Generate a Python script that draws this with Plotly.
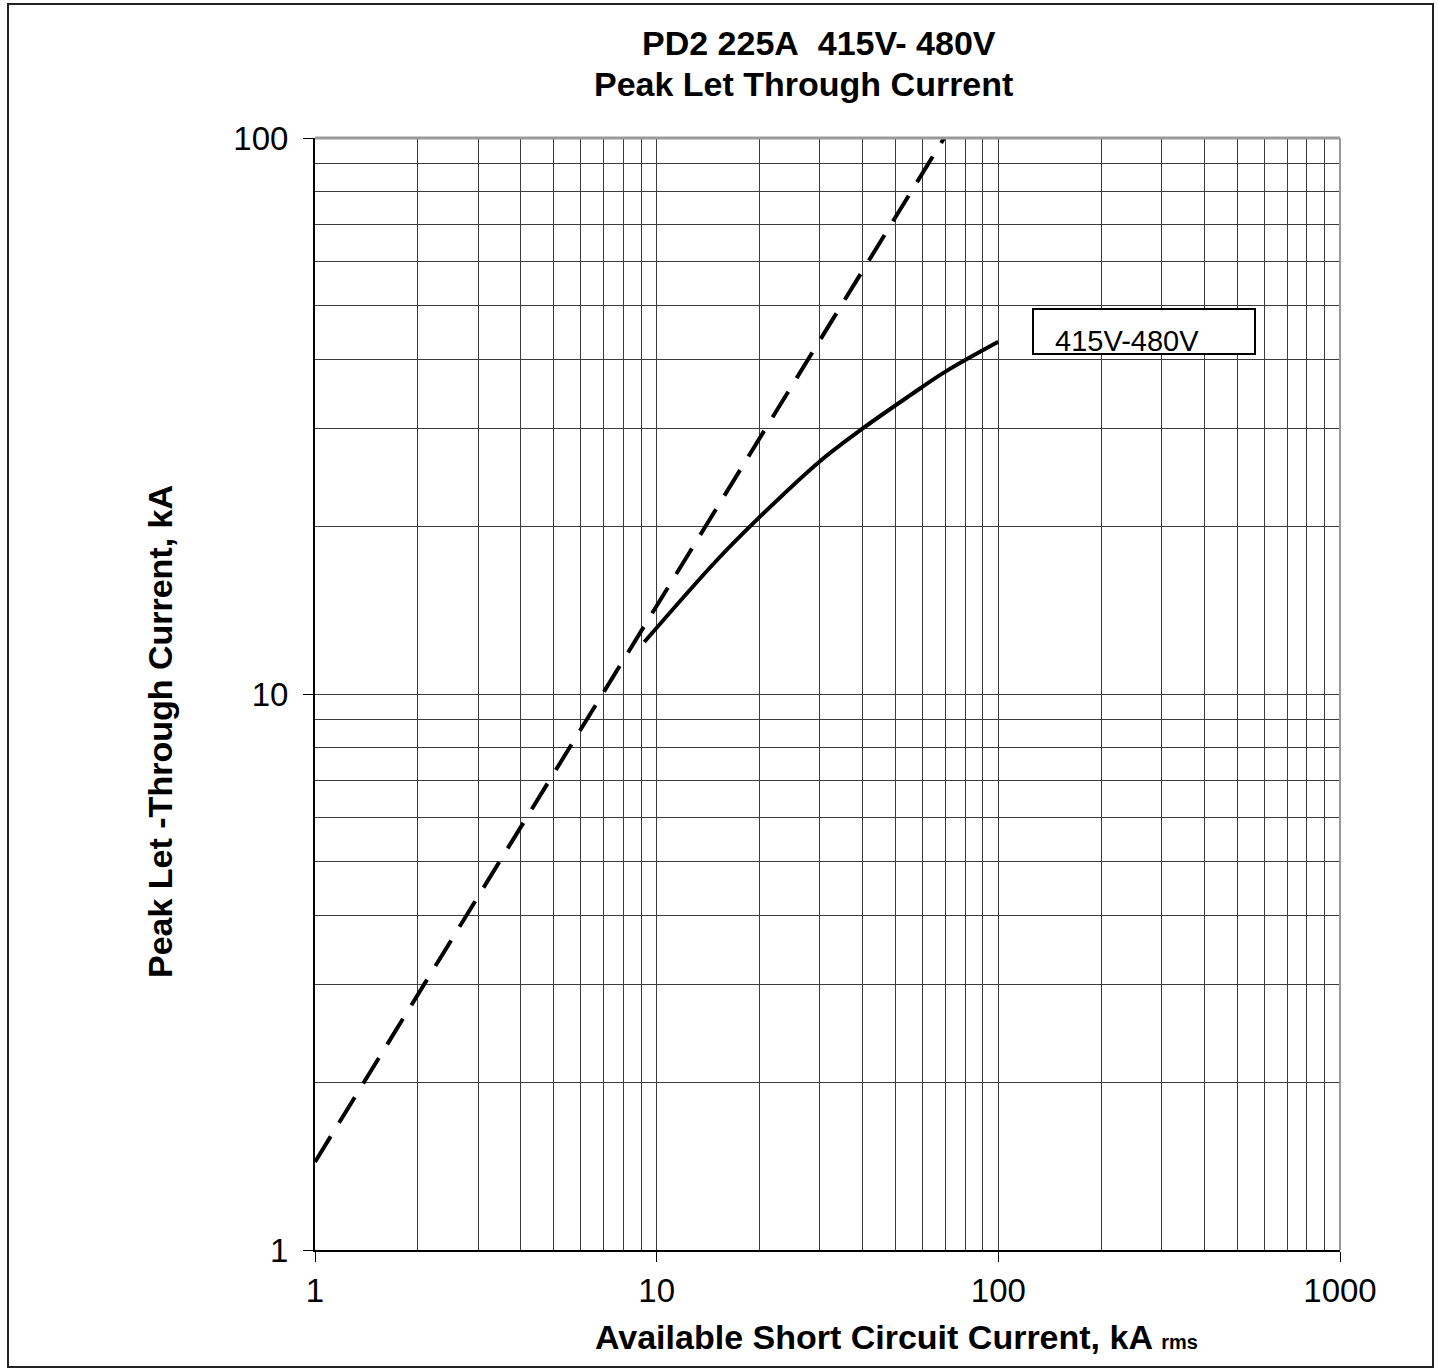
import plotly.graph_objects as go

# Data
dash_x = [1, 69.4]
dash_y = [1.44, 100]
curve_x = [9.2, 15, 20, 30, 40, 55, 70, 100]
curve_y = [12.4, 17.4, 20.8, 26.2, 30, 34.4, 38.0, 43]
series_label = "415V-480V"
major_ticks_x = [1, 10, 100, 1000]
major_ticks_y = [1, 10, 100]
minor_x = [m * d for d in (1, 10, 100) for m in range(2, 10)]
minor_y = [m * d for d in (1, 10) for m in range(2, 10)]

W, H = 1438, 1371
L, R, T, B = 315, 1340, 138, 1250
pw, ph = R - L, B - T

def px(x):
    return (x - L) / pw

def py(y):
    return (B - y) / ph

FONT = "Liberation Sans, Arial, sans-serif"

fig = go.Figure()
fig.add_trace(go.Scatter(x=dash_x, y=dash_y, mode="lines",
                         line=dict(color="black", width=4, dash="30px,16px"),
                         showlegend=False, hoverinfo="skip"))
fig.add_trace(go.Scatter(x=curve_x, y=curve_y, mode="lines", name=series_label,
                         line=dict(color="black", width=4, shape="spline", smoothing=1.0),
                         showlegend=False))

grid = "#3c3c3c"
fig.update_xaxes(type="log", range=[0, 3], tickvals=major_ticks_x,
                 ticktext=[str(v) for v in major_ticks_x],
                 ticks="outside", ticklen=10, tickcolor="black", tickwidth=1,
                 showgrid=True, gridcolor=grid, gridwidth=1,
                 minor=dict(tickmode="array", tickvals=minor_x, showgrid=True,
                            gridcolor=grid, gridwidth=1, ticks=""),
                 showline=True, linecolor="black", linewidth=2, zeroline=False,
                 ticklabelstandoff=0,
                 tickfont=dict(family=FONT, size=33, color="black"))
fig.update_yaxes(type="log", range=[0, 2], tickvals=major_ticks_y,
                 ticktext=[str(v) for v in major_ticks_y],
                 ticks="outside", ticklen=10, tickcolor="black", tickwidth=1,
                 showgrid=True, gridcolor=grid, gridwidth=1,
                 minor=dict(tickmode="array", tickvals=minor_y, showgrid=True,
                            gridcolor=grid, gridwidth=1, ticks=""),
                 showline=True, linecolor="black", linewidth=2, zeroline=False,
                 ticklabelstandoff=8,
                 tickfont=dict(family=FONT, size=33, color="black"))

shapes = [
    # top/right gray border of plot
    dict(type="line", xref="paper", yref="paper", x0=0, x1=1, y0=1, y1=1,
         line=dict(color="#999999", width=3)),
    dict(type="line", xref="paper", yref="paper", x0=1, x1=1, y0=0, y1=1,
         line=dict(color="#999999", width=2)),
    # outer frame
    dict(type="rect", xref="paper", yref="paper", x0=px(8), x1=px(1433), y0=py(1367), y1=py(4),
         line=dict(color="#222222", width=2)),
    # label box
    dict(type="rect", xref="paper", yref="paper", x0=px(1033), x1=px(1255), y0=py(354), y1=py(309),
         line=dict(color="black", width=2), fillcolor="white", layer="above"),
]

annotations = [
    dict(text="<b>PD2 225A&nbsp; 415V- 480V</b>", xref="paper", yref="paper",
         x=px(819), y=py(43), showarrow=False, xanchor="center", yanchor="middle",
         font=dict(family=FONT, size=34, color="black")),
    dict(text="<b>Peak Let Through Current</b>", xref="paper", yref="paper",
         x=px(803), y=py(84), showarrow=False, xanchor="center", yanchor="middle",
         font=dict(family=FONT, size=34, color="black")),
    dict(text="<b>Peak Let -Through Current, kA</b>", xref="paper", yref="paper",
         x=px(160), y=py(732), showarrow=False, textangle=-90, xanchor="center", yanchor="middle",
         font=dict(family=FONT, size=34, color="black")),
    dict(text="<b>Available Short Circuit Current, kA <span style='font-size:20px'>rms</span></b>",
         xref="paper", yref="paper",
         x=px(896), y=py(1337), showarrow=False, xanchor="center", yanchor="middle",
         font=dict(family=FONT, size=34, color="black")),
    dict(text=series_label, xref="paper", yref="paper",
         x=px(1053), y=py(341), showarrow=False, xanchor="left", yanchor="middle",
         font=dict(family=FONT, size=29, color="black")),
]

fig.update_layout(width=W, height=H, margin=dict(l=L, r=W - R, t=T, b=H - B),
                  plot_bgcolor="white", paper_bgcolor="white",
                  shapes=shapes, annotations=annotations)

fig.write_html("out.html")
